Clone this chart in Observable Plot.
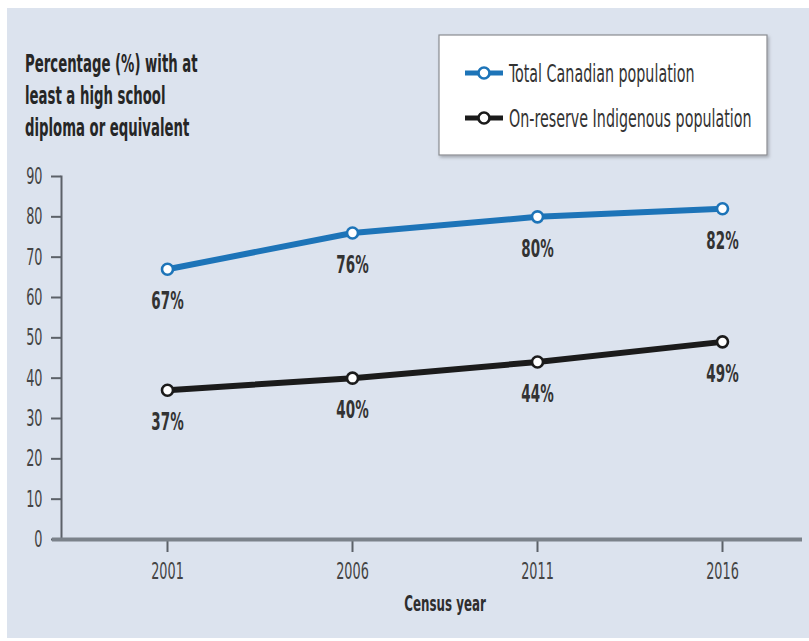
<!DOCTYPE html>
<html>
<head>
<meta charset="utf-8">
<script src="https://cdn.jsdelivr.net/npm/d3@7"></script>
<script src="https://cdn.jsdelivr.net/npm/@observablehq/plot@0.6"></script>
<style>
  html, body { margin: 0; padding: 0; background: #ffffff; }
  #chart svg { display: block; }
</style>
</head>
<body>
<div id="chart"></div>
<script>
// Census years and the share of each population holding at least a high school diploma
const years = [2001, 2006, 2011, 2016];
const totalCanadian = [67, 76, 80, 82];
const onReserve = [37, 40, 44, 49];

const seriesNames = ["Total Canadian population", "On-reserve Indigenous population"];
const seriesColors = ["#1d74b8", "#1b1b1b"];

const yTicks = [0, 10, 20, 30, 40, 50, 60, 70, 80, 90];
const titleLines = ["Percentage (%) with at", "least a high school", "diploma or equivalent"];
const xLabel = "Census year";

const rows = years.flatMap((year, i) => [
  {year, value: totalCanadian[i], series: seriesNames[0]},
  {year, value: onReserve[i], series: seriesNames[1]}
]);

const font = "'DejaVu Sans Condensed', 'DejaVu Sans', sans-serif";
const axisColor = "#5c6168";

const chart = Plot.plot({
  width: 809,
  height: 641,
  marginLeft: 52,
  marginRight: 7,
  marginTop: 176,
  marginBottom: 102,
  style: {background: "transparent", fontFamily: font, color: "#444"},
  x: {domain: [2001, 2016], range: [167, 722]},
  y: {domain: [0, 90]},
  color: {domain: seriesNames, range: seriesColors},
  marks: [
    Plot.frame({anchor: "left", dx: 9, stroke: axisColor, strokeWidth: 2}),
    Plot.axisY({ticks: yTicks, tickSize: 10, tickPadding: 9, dx: 9, label: null,
      fontSize: 23, stroke: axisColor, strokeWidth: 2, fill: "#444"}),
    Plot.axisX({ticks: years, tickFormat: d => String(d), tickSize: 13, tickPadding: 10,
      label: null, fontSize: 23, stroke: axisColor, strokeWidth: 2, fill: "#444"}),
    Plot.ruleY([0], {stroke: "#7b828a", strokeWidth: 4}),
    Plot.text([xLabel], {x: () => d3.mean(years), frameAnchor: "bottom", dy: 71,
      text: d => d, fontWeight: "bold", fontSize: 22, fill: "#2e2e2e"}),
    Plot.line(rows, {x: "year", y: "value", z: "series", stroke: "series", strokeWidth: 6}),
    Plot.dot(rows, {x: "year", y: "value", r: 5.5, fill: "white", stroke: "series", strokeWidth: 2.6}),
    Plot.text(rows, {x: "year", y: "value", text: d => d.value + "%", dy: 32,
      fontWeight: "bold", fontSize: 25, fill: "#333"})
  ]
});

document.getElementById("chart").appendChild(chart);

const svg = d3.select(chart);

// light panel behind the whole chart
svg.insert("rect", ":first-child")
  .attr("x", 7).attr("y", 8).attr("width", 802).attr("height", 630)
  .attr("fill", "#dce3ee");

// y-axis title in the top-left corner
const title = svg.append("g").attr("class", "title").attr("font-family", font)
  .attr("font-weight", "bold").attr("font-size", 25).attr("fill", "#262626")
  .attr("text-anchor", "start");
titleLines.forEach((line, i) => {
  title.append("text").attr("x", 25).attr("y", 72 + i * 32).text(line);
});

// legend box
const defs = svg.append("defs");
const shadow = defs.append("filter").attr("id", "legend-shadow")
  .attr("x", "-5%").attr("y", "-5%").attr("width", "115%").attr("height", "120%");
shadow.append("feDropShadow").attr("dx", 1.5).attr("dy", 2).attr("stdDeviation", 1.5)
  .attr("flood-color", "#000").attr("flood-opacity", 0.25);

const legend = svg.append("g").attr("class", "legend").attr("font-family", font)
  .attr("text-anchor", "start");
legend.append("rect")
  .attr("x", 439).attr("y", 35).attr("width", 328).attr("height", 120)
  .attr("fill", "white").attr("stroke", "#8a8d92").attr("stroke-width", 1.2)
  .attr("filter", "url(#legend-shadow)");
seriesNames.forEach((name, i) => {
  const cy = 73 + i * 45;
  const g = legend.append("g");
  g.append("line").attr("x1", 465).attr("x2", 503).attr("y1", cy).attr("y2", cy)
    .attr("stroke", seriesColors[i]).attr("stroke-width", 5);
  g.append("circle").attr("cx", 484).attr("cy", cy).attr("r", 5.5)
    .attr("fill", "white").attr("stroke", seriesColors[i]).attr("stroke-width", 2.6);
  g.append("text").attr("x", 509).attr("y", cy).attr("dy", "0.36em")
    .attr("font-size", 25).attr("fill", "#333").text(name);
});

// condense labels horizontally, like a narrow typeface
function condense(selection, factor) {
  selection.each(function () {
    const len = this.getComputedTextLength();
    if (len > 0) {
      this.setAttribute("textLength", (len * factor).toFixed(1));
      this.setAttribute("lengthAdjust", "spacingAndGlyphs");
    }
  });
}
condense(svg.selectAll('g[aria-label="y-axis tick label"] text'), 0.62);
condense(svg.selectAll('g[aria-label="x-axis tick label"] text'), 0.62);
condense(svg.selectAll('g[aria-label="text"] text'), 0.6);
condense(svg.selectAll("g.title text"), 0.59);
condense(svg.selectAll("g.legend text"), 0.635);
</script>
</body>
</html>
